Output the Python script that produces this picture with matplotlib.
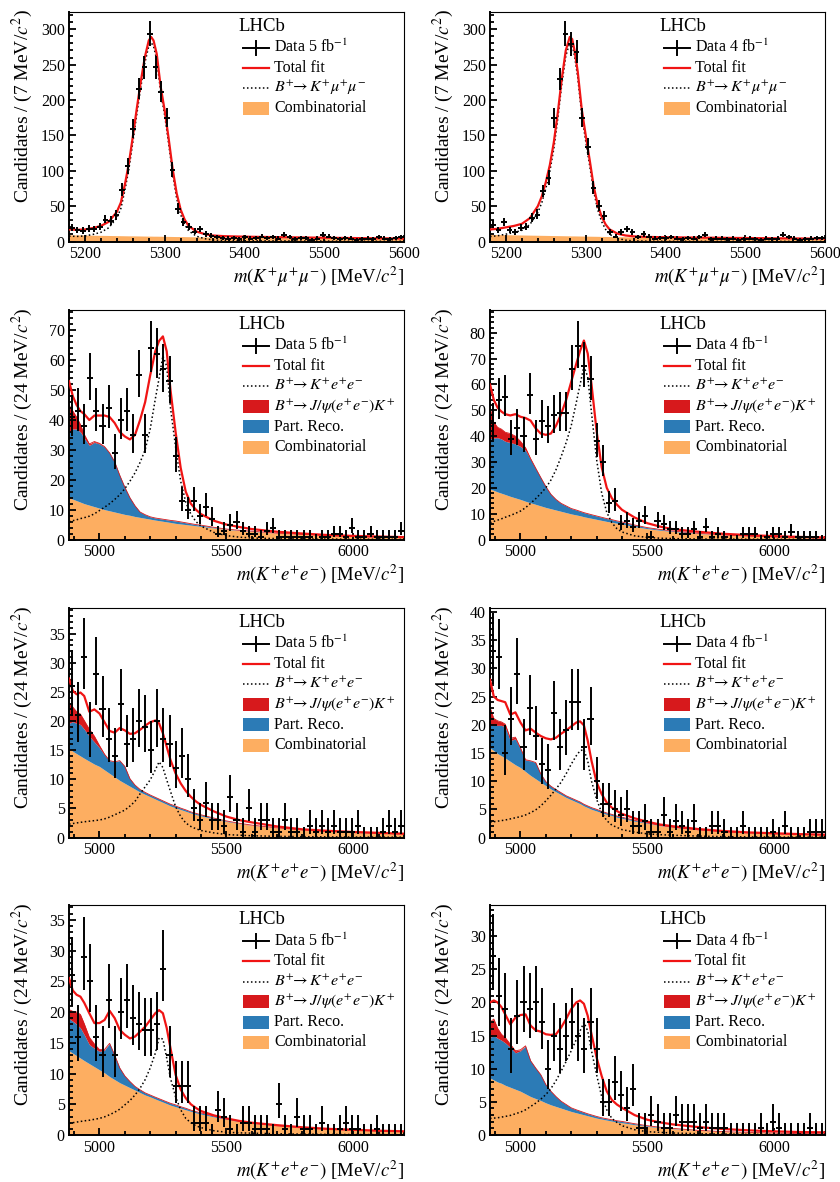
import numpy as np
import matplotlib
matplotlib.use("Agg")
import matplotlib.pyplot as plt
from matplotlib.patches import Rectangle
from matplotlib.ticker import MultipleLocator

plt.rcParams["font.family"] = ["Liberation Serif", "DejaVu Serif"]
plt.rcParams["mathtext.fontset"] = "stix"

# ---------------------------------------------------------------- binning
MM_RANGE, MM_WIDTH = (5180, 5600), 7      # m(K+ mu+ mu-) histogram
EE_RANGE, EE_WIDTH = (4880, 6200), 24     # m(K+ e+ e-) histogram

# mass values at which the fit projections are tabulated
MM_GRID = [5180, 5190, 5200, 5210, 5220, 5230, 5240, 5245, 5250, 5255,
           5260, 5265, 5270, 5275, 5280, 5283, 5286, 5290, 5295, 5300,
           5305, 5310, 5315, 5320, 5325, 5330, 5340, 5350, 5360, 5375,
           5400, 5450, 5500, 5550, 5600]
EE_GRID = [4880, 4895, 4910, 4925, 4940, 4960, 4980, 5000, 5020, 5040,
           5060, 5080, 5100, 5120, 5140, 5160, 5180, 5200, 5220, 5235,
           5250, 5265, 5280, 5300, 5320, 5340, 5360, 5380, 5400, 5450,
           5500, 5550, 5600, 5700, 5800, 5900, 6000, 6100, 6200]

# ---------------------------------------------------------------- B+ -> K+ mu+ mu-, 5 fb-1
MM5_COUNTS = [19, 16, 15, 18, 17, 21, 31, 29, 37, 73,
              106, 159, 216, 246, 293, 246, 211, 175, 101, 46,
              27, 20, 14, 17, 10, 8, 6, 5, 4, 5,
              3, 6, 4, 5, 7, 5, 6, 4, 9, 6,
              3, 5, 5, 2, 4, 9, 7, 5, 3, 5,
              4, 2, 3, 4, 3, 6, 4, 3, 5, 6]
MM5_COMB = [9.5, 9.3, 9.1, 8.9, 8.7, 8.5, 8.3, 8.2, 8.1, 8.0,
            8.0, 7.9, 7.8, 7.7, 7.6, 7.6, 7.5, 7.5, 7.4, 7.3,
            7.2, 7.1, 7.0, 7.0, 6.9, 6.8, 6.6, 6.5, 6.3, 6.1,
            5.8, 5.2, 4.7, 4.3, 3.9]
MM5_SIG = [7.5, 7.2, 7.9, 10, 13, 19.5, 33.5, 46.5, 72, 102,
           140, 180, 218, 252, 276, 281, 276, 257, 211, 178,
           138, 95, 61, 38, 24, 15, 7.4, 4, 2.2, 1.4,
           1.0, 0.8, 0.6, 0.4, 0.3]
MM5_TOT = [17, 16.5, 17, 19, 22, 28, 42, 55, 80, 110,
           148, 188, 226, 260, 284, 289, 284, 265, 218, 185,
           145, 102, 68, 45, 31, 22, 14, 10.5, 8.5, 7.5,
           6.8, 6.0, 5.3, 4.7, 4.2]

# ---------------------------------------------------------------- B+ -> K+ mu+ mu-, 4 fb-1
MM4_COUNTS = [24, 16, 27, 16, 13, 19, 20, 33, 38, 71,
              90, 174, 229, 293, 279, 268, 175, 134, 76, 50,
              36, 13, 7, 13, 17, 13, 6, 10, 7, 4,
              5, 5, 6, 4, 3, 5, 4, 6, 9, 3,
              4, 4, 3, 4, 2, 3, 4, 3, 2, 4,
              3, 4, 9, 6, 4, 2, 3, 4, 5, 5]
MM4_COMB = [10, 9.8, 9.6, 9.4, 9.2, 9.0, 8.8, 8.7, 8.6, 8.5,
            8.4, 8.3, 8.2, 8.1, 8.0, 7.9, 7.9, 7.8, 7.7, 7.6,
            7.5, 7.4, 7.3, 7.2, 7.1, 7.0, 6.8, 6.6, 6.4, 6.1,
            5.7, 5.0, 4.4, 3.9, 3.4]
MM4_SIG = [7, 8.2, 10.4, 12.6, 15.8, 24, 41, 55, 75, 99,
           131, 174, 222, 262, 281, 278, 262, 232, 179, 142,
           107, 71, 45, 28, 17, 10, 4.2, 1.9, 0.9, 0.5,
           0.35, 0.3, 0.25, 0.2, 0.15]
MM4_TOT = [17, 18, 20, 22, 25, 33, 50, 64, 84, 108,
           140, 182, 230, 270, 289, 286, 270, 240, 187, 150,
           115, 78, 52, 35, 24, 17, 11, 8.5, 7.3, 6.5,
           6.0, 5.4, 4.9, 4.4, 4.0]

# ---------------------------------------------------------------- B+ -> K+ e+ e-, 5 fb-1, first category
EE5A_COUNTS = [41, 43, 38, 54, 43, 38, 44, 29, 40, 43,
               35, 55, 35, 64, 62, 57, 53, 28, 13, 10,
               13, 8, 11, 7, 2, 3, 5, 6, 3, 2,
               2, 1, 3, 4, 1, 1, 1, 1, 1, 1,
               0, 1, 1, 2, 2, 1, 4, 1, 1, 2,
               1, 1, 1, 1, 3]
EE5A_COMB = [14.0, 13.5, 13.0, 12.5, 12.0, 11.5, 11.0, 10.5, 10.0, 9.6,
             9.2, 8.8, 8.4, 8.1, 7.7, 7.4, 7.1, 6.8, 6.5, 6.3,
             6.1, 5.9, 5.7, 5.4, 5.2, 5.0, 4.8, 4.6, 4.4, 3.9,
             3.4, 3.0, 2.7, 2.1, 1.7, 1.3, 1.0, 0.8, 0.65]
EE5A_PRECO = [22, 23.5, 24, 23.5, 22, 20, 21.5, 21.5, 21, 19.4,
              16.8, 12.7, 9.1, 5.9, 3.6, 1.8, 1.2, 0.8, 0.7, 0.7,
              0.7, 0.7, 0.7, 0.8, 0.7, 0.6, 0.5, 0.4, 0.4, 0.2,
              0.1, 0.1, 0.1, 0, 0, 0, 0, 0, 0]
EE5A_JPSI = [9, 6, 4, 2.5, 1.2, 0.5, 0.3, 0.2, 0.1, 0,
             0, 0, 0, 0, 0, 0, 0, 0, 0, 0,
             0, 0, 0, 0, 0, 0, 0, 0, 0, 0,
             0, 0, 0, 0, 0, 0, 0, 0, 0]
EE5A_SIG = [6, 6.3, 6.6, 7, 7.3, 7.8, 8.6, 9.7, 10.8, 12,
            13.4, 15, 17, 19.5, 22.3, 25.8, 30, 37, 47, 54,
            61.5, 58, 44, 31, 19.5, 12.5, 8.5, 6, 4.5, 2.4,
            1.3, 0.8, 0.5, 0.3, 0.2, 0.15, 0.1, 0.08, 0.06]
EE5A_TOT = [53, 48, 45, 43, 42, 40, 41.5, 41.5, 41.5, 41,
            39, 36, 34.5, 33.5, 35, 40, 46, 55, 63, 66.5,
            68, 63, 50, 36, 24, 16, 12, 10, 8.5, 6.3,
            5.0, 4.2, 3.5, 2.6, 2.0, 1.5, 1.2, 1.0, 0.8]

# ---------------------------------------------------------------- B+ -> K+ e+ e-, 4 fb-1, first category
EE4A_COUNTS = [45, 54, 55, 39, 43, 40, 56, 39, 46, 44,
               48, 49, 49, 66, 75, 67, 62, 38, 30, 14,
               15, 6, 7, 5, 7, 9, 1, 7, 6, 4,
               4, 2, 2, 4, 1, 5, 1, 2, 1, 0,
               0, 2, 2, 2, 0, 1, 2, 2, 1, 3,
               1, 1, 1, 1, 0]
EE4A_COMB = [19.5, 19.0, 18.4, 17.9, 17.4, 16.7, 16.1, 15.5, 14.8, 14.2,
             13.6, 13.0, 12.4, 11.9, 11.4, 10.9, 10.4, 9.9, 9.5, 9.2,
             8.8, 8.5, 8.2, 7.8, 7.4, 7.0, 6.7, 6.3, 6.0, 5.0,
             4.2, 3.6, 3.1, 2.3, 1.75, 1.3, 1.0, 0.75, 0.55]
EE4A_PRECO = [19.5, 20.3, 21, 21, 20.6, 20.8, 20.9, 20.5, 19.7, 16.8,
              13.9, 11, 8.1, 5.6, 4.1, 3.1, 2.6, 2.1, 1.9, 1.7,
              1.6, 1.5, 1.4, 1.3, 1.2, 1.1, 1.0, 0.9, 0.8, 0.6,
              0.4, 0.3, 0.2, 0.1, 0, 0, 0, 0, 0]
EE4A_JPSI = [12, 6, 4, 3.8, 3.5, 3.5, 3, 2, 1, 0.3,
             0.1, 0, 0, 0, 0, 0, 0, 0, 0, 0,
             0, 0, 0, 0, 0, 0, 0, 0, 0, 0,
             0, 0, 0, 0, 0, 0, 0, 0, 0]
EE4A_SIG = [6.5, 7, 7.5, 8, 8.6, 9.3, 10.1, 11, 12.3, 14,
            15.8, 17.8, 20, 23, 27, 32, 37.5, 44, 53, 60,
            67, 63, 49, 31, 18, 10.5, 6.5, 4.2, 2.9, 1.4,
            0.8, 0.5, 0.35, 0.2, 0.15, 0.1, 0.08, 0.06, 0.05]
EE4A_TOT = [60, 54, 51, 49.5, 48.5, 48, 48.5, 47.5, 47, 46,
            43, 41, 40.5, 41, 44, 48.5, 54, 61, 68, 73,
            77, 72, 60, 42, 28, 20, 16, 13.5, 11.5, 8.5,
            6.3, 5.0, 4.0, 3.0, 2.2, 1.7, 1.3, 1.0, 0.8]

# ---------------------------------------------------------------- B+ -> K+ e+ e-, 5 fb-1, second category
EE5B_COUNTS = [26, 21, 31, 18, 28, 22, 17, 14, 23, 16,
               17, 20, 19, 15, 20, 17, 16, 12, 14, 10,
               5, 3, 6, 3, 3, 2, 7, 3, 1, 5,
               1, 3, 3, 1, 1, 3, 1, 1, 0, 2,
               1, 2, 1, 2, 1, 1, 1, 2, 0, 0,
               0, 1, 2, 1, 2]
EE5B_COMB = [15.3, 14.8, 14.4, 14.0, 13.6, 13.1, 12.6, 12.2, 11.6, 11.0,
             10.4, 9.8, 9.3, 8.8, 8.3, 7.8, 7.4, 7.0, 6.6, 6.3,
             6.0, 5.7, 5.4, 5.1, 4.8, 4.5, 4.2, 3.95, 3.7, 3.2,
             2.75, 2.4, 2.1, 1.65, 1.3, 1.05, 0.85, 0.7, 0.6]
EE5B_PRECO = [4.3, 5.1, 5.2, 5.4, 5.0, 4.3, 3.8, 3.2, 2.6, 2.2,
              2.6, 3.4, 2.9, 1.3, 0.7, 0.45, 0.35, 0.3, 0.3, 0.3,
              0.3, 0.3, 0.3, 0.3, 0.25, 0.25, 0.2, 0.2, 0.2, 0.15,
              0.1, 0.05, 0.03, 0, 0, 0, 0, 0, 0]
EE5B_JPSI = [3.5, 2.5, 2.0, 1.8, 1.5, 1.2, 1.0, 0.4, 0.1, 0,
             0, 0, 0, 0, 0, 0, 0, 0, 0, 0,
             0, 0, 0, 0, 0, 0, 0, 0, 0, 0,
             0, 0, 0, 0, 0, 0, 0, 0, 0]
EE5B_SIG = [2.3, 2.4, 2.5, 2.6, 2.7, 2.8, 2.9, 3.0, 3.2, 3.5,
            3.9, 4.3, 4.7, 5.4, 6.2, 7.5, 8.7, 9.9, 11.6, 13.0,
            12.0, 9.9, 7.9, 5.3, 3.6, 2.5, 1.9, 1.5, 1.2, 0.8,
            0.5, 0.4, 0.3, 0.2, 0.15, 0.1, 0.08, 0.06, 0.05]
EE5B_TOT = [27.3, 25.2, 24.6, 24.9, 24.3, 21.6, 22.0, 21.3, 19.8, 18.3,
            18.0, 18.8, 18.4, 17.8, 17.9, 18.5, 19.2, 19.8, 20.1, 19.6,
            17.9, 15.6, 13.3, 11.0, 9.3, 8.0, 7.0, 6.2, 5.6, 4.5,
            3.6, 3.0, 2.6, 1.9, 1.4, 1.15, 0.95, 0.8, 0.65]

# ---------------------------------------------------------------- B+ -> K+ e+ e-, 4 fb-1, second category
EE4B_COUNTS = [33, 32, 15, 21, 29, 16, 23, 18, 13, 12,
               22, 16, 19, 24, 24, 16, 21, 10, 6, 6,
               5, 4, 5, 2, 2, 3, 1, 1, 4, 1,
               3, 2, 1, 3, 0, 0, 2, 2, 1, 0,
               0, 2, 0, 0, 0, 0, 1, 0, 2, 0,
               0, 0, 1, 1, 1]
EE4B_COMB = [15.9, 15.4, 14.9, 14.5, 14.1, 13.5, 12.9, 12.4, 11.7, 11.0,
             10.4, 9.8, 9.2, 8.6, 8.1, 7.6, 7.1, 6.7, 6.3, 6.0,
             5.6, 5.3, 5.0, 4.7, 4.4, 4.1, 3.9, 3.6, 3.4, 2.9,
             2.5, 2.1, 1.8, 1.35, 1.0, 0.8, 0.65, 0.55, 0.45]
EE4B_PRECO = [4.2, 4.5, 5.0, 5.4, 5.5, 3.7, 4.6, 3.3, 2.0, 2.6,
              2.9, 1.5, 0.7, 0.5, 0.4, 0.35, 0.3, 0.3, 0.3, 0.3,
              0.3, 0.3, 0.3, 0.3, 0.25, 0.25, 0.2, 0.2, 0.2, 0.15,
              0.1, 0.05, 0.03, 0, 0, 0, 0, 0, 0]
EE4B_JPSI = [3.0, 1.2, 0.8, 0.6, 0.5, 0.4, 0.3, 0.2, 0.1, 0,
             0, 0, 0, 0, 0, 0, 0, 0, 0, 0,
             0, 0, 0, 0, 0, 0, 0, 0, 0, 0,
             0, 0, 0, 0, 0, 0, 0, 0, 0]
EE4B_SIG = [2.7, 2.8, 2.9, 3.0, 3.1, 3.3, 3.5, 3.7, 4.0, 4.4,
            4.9, 5.6, 6.5, 7.5, 8.6, 9.8, 11.3, 13.0, 14.5, 15.4,
            15.6, 13.6, 10.0, 6.8, 4.4, 3.0, 2.2, 1.8, 1.4, 0.95,
            0.65, 0.5, 0.4, 0.25, 0.15, 0.1, 0.08, 0.06, 0.05]
EE4B_TOT = [28, 25, 24.4, 24.2, 24, 21.8, 22.2, 20.4, 19.0, 19.3,
            18.6, 18, 17.6, 17.4, 17.7, 18.4, 19, 19.7, 20.4, 20.6,
            19.9, 17.2, 13.6, 9.8, 7.7, 6.2, 5.3, 4.7, 4.2, 3.4,
            2.8, 2.3, 2.0, 1.5, 1.15, 0.9, 0.75, 0.6, 0.5]

# ---------------------------------------------------------------- B+ -> K+ e+ e-, 5 fb-1, third category
EE5C_COUNTS = [26, 16, 29, 25, 16, 13, 22, 13, 20, 22,
               19, 18, 17, 17, 18, 27, 13, 8, 8, 8,
               2, 2, 2, 0, 4, 3, 1, 0, 2, 2,
               1, 1, 1, 0, 5, 1, 0, 3, 1, 1,
               0, 2, 0, 0, 1, 2, 1, 1, 0, 0,
               1, 0, 0, 0, 0]
EE5C_COMB = [13.7, 13.3, 12.9, 12.5, 12.1, 11.6, 11.1, 10.6, 10.1, 9.5,
             9.0, 8.5, 8.1, 7.7, 7.3, 6.9, 6.5, 6.2, 5.85, 5.6,
             5.35, 5.1, 4.85, 4.6, 4.35, 4.1, 3.85, 3.6, 3.4, 2.95,
             2.55, 2.2, 1.9, 1.5, 1.2, 0.95, 0.8, 0.65, 0.55]
EE5C_PRECO = [5.2, 5.2, 5.1, 4.9, 4.2, 3.1, 3.0, 3.0, 3.7, 5.4,
              4.0, 2.4, 1.5, 1.0, 0.6, 0.45, 0.35, 0.3, 0.3, 0.3,
              0.3, 0.3, 0.3, 0.3, 0.25, 0.25, 0.2, 0.2, 0.2, 0.15,
              0.1, 0.05, 0.03, 0, 0, 0, 0, 0, 0]
EE5C_JPSI = [1.5, 1.6, 2.0, 2.2, 1.8, 1.2, 0.7, 0.3, 0.1, 0,
             0, 0, 0, 0, 0, 0, 0, 0, 0, 0,
             0, 0, 0, 0, 0, 0, 0, 0, 0, 0,
             0, 0, 0, 0, 0, 0, 0, 0, 0]
EE5C_SIG = [1.9, 2.0, 2.1, 2.2, 2.3, 2.4, 2.55, 2.7, 2.95, 3.3,
            3.7, 4.2, 4.9, 5.6, 6.5, 7.6, 9.0, 10.9, 13.3, 15.8,
            15.6, 12.5, 9.2, 6.2, 4.1, 2.7, 2.0, 1.5, 1.2, 0.7,
            0.45, 0.35, 0.3, 0.2, 0.15, 0.1, 0.08, 0.06, 0.05]
EE5C_TOT = [25.5, 23.5, 22.8, 22.5, 21.5, 19.8, 18.2, 18.2, 18.7, 20.2,
            19.0, 17.1, 16.3, 15.7, 16.0, 16.8, 17.6, 18.7, 19.8, 20.3,
            19.8, 17.4, 14.1, 9.8, 7.4, 6.0, 5.0, 4.4, 3.9, 3.2,
            2.7, 2.3, 2.0, 1.6, 1.25, 1.0, 0.85, 0.7, 0.6]

# ---------------------------------------------------------------- B+ -> K+ e+ e-, 4 fb-1, third category
EE4C_COUNTS = [27, 21, 19, 13, 18, 20, 19, 20, 17, 10,
               15, 13, 15, 17, 15, 13, 17, 13, 5, 5,
               8, 6, 4, 7, 1, 1, 3, 2, 1, 1,
               3, 2, 2, 2, 1, 2, 1, 1, 1, 0,
               0, 0, 0, 0, 1, 0, 2, 1, 0, 0,
               0, 0, 1, 0, 0]
EE4C_COMB = [8.6, 8.3, 8.0, 7.8, 7.5, 7.2, 6.9, 6.6, 6.2, 5.8,
             5.5, 5.2, 4.85, 4.55, 4.3, 4.05, 3.8, 3.55, 3.35, 3.2,
             3.05, 2.9, 2.75, 2.55, 2.4, 2.25, 2.1, 1.95, 1.85, 1.55,
             1.3, 1.1, 0.95, 0.7, 0.5, 0.4, 0.3, 0.22, 0.17]
EE4C_PRECO = [6.1, 6.7, 6.6, 6.5, 6.4, 6.0, 5.5, 6.1, 7.2, 5.4,
              4.6, 3.9, 2.75, 2.05, 1.5, 1.05, 0.8, 0.55, 0.45, 0.4,
              0.35, 0.3, 0.28, 0.25, 0.2, 0.2, 0.2, 0.2, 0.2, 0.15,
              0.1, 0.07, 0.05, 0, 0, 0, 0, 0, 0]
EE4C_JPSI = [2.3, 2.5, 1.5, 0.9, 0.8, 0.5, 0.3, 0.15, 0.05, 0,
             0, 0, 0, 0, 0, 0, 0, 0, 0, 0,
             0, 0, 0, 0, 0, 0, 0, 0, 0, 0,
             0, 0, 0, 0, 0, 0, 0, 0, 0]
EE4C_SIG = [2.5, 2.55, 2.6, 2.7, 2.8, 2.95, 3.2, 3.45, 3.8, 4.3,
            4.8, 5.4, 6.1, 7.0, 8.2, 9.6, 11.1, 12.7, 14.4, 15.7,
            17.0, 15.7, 12.7, 9.1, 5.8, 3.8, 2.5, 1.9, 1.4, 0.8,
            0.5, 0.4, 0.3, 0.2, 0.15, 0.1, 0.08, 0.06, 0.05]
EE4C_TOT = [20, 20.3, 20, 19.3, 18.2, 16.7, 17.7, 18.1, 18.2, 16.5,
            15.8, 15.6, 15.2, 15.1, 15.2, 16.2, 17.5, 19.0, 20.0, 20.3,
            19.8, 18.0, 15.2, 11.7, 8.9, 6.6, 5.3, 4.6, 4.1, 3.0,
            2.3, 1.9, 1.6, 1.2, 0.9, 0.7, 0.55, 0.45, 0.4]

# ---------------------------------------------------------------- styling
C_COMB = "#fdae61"
C_PRECO = "#2c7bb6"
C_JPSI = "#d7191c"
C_TOTAL = "#f01414"

MM_XLABEL = r"$m(K^{+}\mu^{+}\mu^{-})$ [MeV/$c^{2}$]"
EE_XLABEL = r"$m(K^{+}e^{+}e^{-})$ [MeV/$c^{2}$]"
MM_YLABEL = r"Candidates / (7 MeV/$c^{2}$)"
EE_YLABEL = r"Candidates / (24 MeV/$c^{2}$)"

MM_SIG_LABEL = r"$B^{+}\!\!\rightarrow K^{+}\mu^{+}\mu^{-}$"
EE_SIG_LABEL = r"$B^{+}\!\!\rightarrow K^{+}e^{+}e^{-}$"
JPSI_LABEL = r"$B^{+}\!\!\rightarrow J/\psi(e^{+}e^{-})K^{+}$"


def mm_panel(lumi, counts, comb, sig, tot, ymax):
    return dict(lumi=lumi, counts=counts, comb=comb, sig=sig, tot=tot,
                preco=None, jpsi=None, grid=MM_GRID, rng=MM_RANGE,
                width=MM_WIDTH, ymax=ymax, ymaj=50, ymin=10,
                xmaj=100, xmin=20, xlabel=MM_XLABEL, ylabel=MM_YLABEL,
                siglabel=MM_SIG_LABEL)


def ee_panel(lumi, counts, comb, preco, jpsi, sig, tot, ymax, ymaj, ymin):
    return dict(lumi=lumi, counts=counts, comb=comb, sig=sig, tot=tot,
                preco=preco, jpsi=jpsi, grid=EE_GRID, rng=EE_RANGE,
                width=EE_WIDTH, ymax=ymax, ymaj=ymaj, ymin=ymin,
                xmaj=500, xmin=100, xlabel=EE_XLABEL, ylabel=EE_YLABEL,
                siglabel=EE_SIG_LABEL)


PANELS = [
    mm_panel(5, MM5_COUNTS, MM5_COMB, MM5_SIG, MM5_TOT, 325),
    mm_panel(4, MM4_COUNTS, MM4_COMB, MM4_SIG, MM4_TOT, 325),
    ee_panel(5, EE5A_COUNTS, EE5A_COMB, EE5A_PRECO, EE5A_JPSI, EE5A_SIG, EE5A_TOT, 77, 10, 2),
    ee_panel(4, EE4A_COUNTS, EE4A_COMB, EE4A_PRECO, EE4A_JPSI, EE4A_SIG, EE4A_TOT, 89, 10, 2),
    ee_panel(5, EE5B_COUNTS, EE5B_COMB, EE5B_PRECO, EE5B_JPSI, EE5B_SIG, EE5B_TOT, 39.5, 5, 1),
    ee_panel(4, EE4B_COUNTS, EE4B_COMB, EE4B_PRECO, EE4B_JPSI, EE4B_SIG, EE4B_TOT, 40.8, 5, 1),
    ee_panel(5, EE5C_COUNTS, EE5C_COMB, EE5C_PRECO, EE5C_JPSI, EE5C_SIG, EE5C_TOT, 37.4, 5, 1),
    ee_panel(4, EE4C_COUNTS, EE4C_COMB, EE4C_PRECO, EE4C_JPSI, EE4C_SIG, EE4C_TOT, 34.7, 5, 1),
]

# ---------------------------------------------------------------- page layout (pixels)
FIG_W_PX, FIG_H_PX, DPI = 840, 1182, 100
COL_LEFT = [69, 490]
ROW_TOP = [11.5, 309.5, 607.5, 905.0]
AX_W, AX_H = 335, 230


def poisson_errors(n):
    n = np.asarray(n, float)
    lo = np.where(n > 0, np.sqrt(np.clip(n - 0.25, 0, None)), 0.0)
    hi = 1.0 + np.sqrt(n + 0.75)
    return lo, hi


def draw_legend(ax, p):
    def axy(dx, dy):
        return dx / AX_W, 1.0 - dy / AX_H

    ax.text(*axy(169, 15), "LHCb", fontsize=13.5, ha="left", va="center",
            transform=ax.transAxes)
    entries = [("data", "Data %d fb$^{-1}$" % p["lumi"]),
               ("total", "Total fit"),
               ("signal", p["siglabel"])]
    if p["preco"] is not None:
        entries += [("fill", JPSI_LABEL, C_JPSI),
                    ("fill", "Part. Reco.", C_PRECO)]
    entries += [("fill", "Combinatorial", C_COMB)]

    x0, x1 = 174, 200
    for i, entry in enumerate(entries):
        kind, label = entry[0], entry[1]
        y = 36 + 20.3 * i
        _, yy = axy(0, y)
        xa, xb = x0 / AX_W, x1 / AX_W
        if kind == "data":
            ax.plot([xa, xb], [yy, yy], color="k", lw=1.4,
                    transform=ax.transAxes, clip_on=False)
            xm = 0.5 * (xa + xb)
            ax.plot([xm, xm], [yy - 7 / AX_H, yy + 7 / AX_H], color="k", lw=1.4,
                    transform=ax.transAxes, clip_on=False)
        elif kind == "total":
            ax.plot([xa, xb], [yy, yy], color=C_TOTAL, lw=1.6,
                    transform=ax.transAxes, clip_on=False)
        elif kind == "signal":
            ax.plot([xa, xb], [yy, yy], color="k", lw=1.1, ls=(0, (1, 1.6)),
                    transform=ax.transAxes, clip_on=False)
        else:
            ax.add_patch(Rectangle((xa, yy - 6.5 / AX_H), (x1 - x0) / AX_W,
                                   13 / AX_H, facecolor=entry[2],
                                   edgecolor="none", transform=ax.transAxes,
                                   clip_on=False))
        ax.text(205 / AX_W, yy, label, fontsize=11.5, ha="left", va="center",
                transform=ax.transAxes)


def draw_panel(ax, p):
    grid = np.asarray(p["grid"], float)
    comb = np.asarray(p["comb"], float)
    ax.fill_between(grid, 0, comb, color=C_COMB, lw=0, zorder=1)
    if p["preco"] is not None:
        pr_top = comb + np.asarray(p["preco"], float)
        jp_top = pr_top + np.asarray(p["jpsi"], float)
        ax.fill_between(grid, comb, pr_top, color=C_PRECO, lw=0, zorder=1)
        ax.fill_between(grid, pr_top, jp_top, color=C_JPSI, lw=0, zorder=1)
        ax.plot(grid, jp_top, color=C_JPSI, lw=0.6, zorder=1.5)
    ax.plot(grid, p["sig"], color="k", lw=1.1, ls=(0, (1, 1.6)), zorder=2)
    ax.plot(grid, p["tot"], color=C_TOTAL, lw=1.6, zorder=3)

    lo, hi = p["rng"]
    w = p["width"]
    counts = np.asarray(p["counts"], float)
    centers = lo + w * (np.arange(len(counts)) + 0.5)
    elo, ehi = poisson_errors(counts)
    ax.errorbar(centers, counts, xerr=w / 2, yerr=[elo, ehi], fmt="none",
                ecolor="k", elinewidth=1.4, capsize=0, zorder=4)

    ax.set_xlim(lo, hi)
    ax.set_ylim(0, p["ymax"])
    ax.xaxis.set_major_locator(MultipleLocator(p["xmaj"]))
    ax.xaxis.set_minor_locator(MultipleLocator(p["xmin"]))
    ax.yaxis.set_major_locator(MultipleLocator(p["ymaj"]))
    ax.yaxis.set_minor_locator(MultipleLocator(p["ymin"]))
    ax.tick_params(which="both", direction="in", top=False, right=False,
                   width=1.3, labelsize=11.5)
    ax.tick_params(which="major", length=5)
    ax.tick_params(which="minor", length=2.6)
    ax.tick_params(axis="y", pad=3)
    ax.tick_params(axis="x", pad=3.4)
    for side in ("left", "bottom"):
        ax.spines[side].set_linewidth(1.4)
    for side in ("top", "right"):
        ax.spines[side].set_linewidth(0.8)

    ax.text(1.0, -23.5 / AX_H, p["xlabel"], fontsize=13.5, ha="right",
            va="top", transform=ax.transAxes)
    ax.text(-47 / AX_W, 1.01, p["ylabel"], fontsize=14, rotation=90,
            ha="center", va="top", transform=ax.transAxes)
    draw_legend(ax, p)


fig = plt.figure(figsize=(FIG_W_PX / DPI, FIG_H_PX / DPI), dpi=DPI)
for k, p in enumerate(PANELS):
    row, col = divmod(k, 2)
    left = COL_LEFT[col] / FIG_W_PX
    bottom = 1.0 - (ROW_TOP[row] + AX_H) / FIG_H_PX
    ax = fig.add_axes([left, bottom, AX_W / FIG_W_PX, AX_H / FIG_H_PX])
    draw_panel(ax, p)

fig.savefig("out.png", dpi=DPI, facecolor="white")
